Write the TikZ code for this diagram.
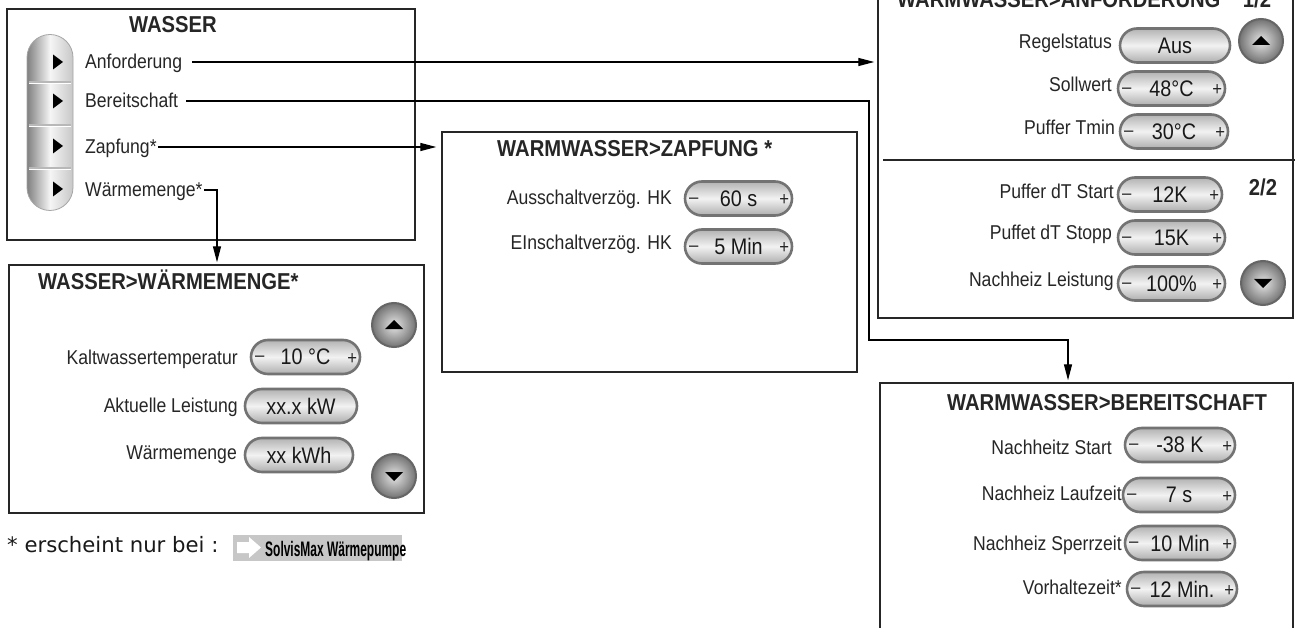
\documentclass[tikz,border=0pt]{standalone}
\usepackage{fontspec}
\setmainfont{Liberation Sans}[FakeStretch=0.88]
\newfontfamily\footfont{DejaVu Sans}
\newfontfamily\badgefont{Liberation Sans}[FakeStretch=0.57]
\usetikzlibrary{shapes.misc,arrows.meta,calc}

\tikzset{
  frame/.style={draw=black!85, line width=1.4pt, inner sep=0pt, fill=white},
  ttl/.style={font=\bfseries\fontsize{23}{24}\selectfont, inner sep=0pt, text=black!85},
  lbl/.style={font=\fontsize{20}{22}\selectfont, inner sep=0pt, anchor=base east, text=black!85},
  mlbl/.style={font=\fontsize{20}{22}\selectfont, inner sep=0pt, anchor=base west, text=black!85},
  pill/.style={rounded rectangle, draw=black!55, line width=2.6pt, top color=black!30, bottom color=black!32, middle color=black!5, inner sep=0pt, minimum height=34pt, font=\fontsize{22.5}{24}\selectfont, text=black!90},
  pmk/.style={inner sep=0pt, font=\fontsize{19}{20}\selectfont, text=black!85},
  rbtn/.style={circle, draw=black!60, line width=2pt, inner color=black!10, outer color=black!55, minimum size=44pt, inner sep=0pt},
  conn/.style={draw=black, line width=1.3pt},
  arr/.style={conn, -{Triangle[length=16pt,width=8pt]}},
}

\newcommand\valpill[5]{\node[pill, minimum width=#4pt] (#1) at (#2,#3) {\raisebox{-2.5pt}{#5}};}
\newcommand\pmpill[5]{\valpill{#1}{#2}{#3}{#4}{#5}%
  \node[pmk] (#1m) at ([xshift=10pt,yshift=-2pt]#1.west) {–};%
  \node[pmk] (#1p) at ([xshift=-9pt,yshift=-2pt]#1.east) {+};}
\newcommand\upbtn[3]{\node[rbtn] (#1) at (#2,#3) {};%
  \fill[black] ($(#1)+(0,-5)$) -- ($(#1)+(9,4)$) -- ($(#1)+(-9,4)$) -- cycle;}
\newcommand\dnbtn[3]{\node[rbtn] (#1) at (#2,#3) {};%
  \fill[black] ($(#1)+(0,5)$) -- ($(#1)+(9,-4)$) -- ($(#1)+(-9,-4)$) -- cycle;}

\begin{document}
\begin{tikzpicture}[x=1pt,y=-1pt]
\useasboundingbox (0,0) rectangle (1295,628);
\fill[white] (0,0) rectangle (1295,628);

% ---------- frames ----------
\node[frame, minimum width=408pt, minimum height=231pt] (boxW) at (211,124.5) {};
\node[frame, minimum width=415pt, minimum height=248pt] (boxM) at (216.5,389) {};
\node[frame, minimum width=415pt, minimum height=240pt] (boxZ) at (649.5,252) {};
\node[frame, minimum width=415pt, minimum height=338pt] (boxA) at (1085.5,149) {};
\node[frame, minimum width=413pt, minimum height=270pt] (boxB) at (1086.5,518) {};

% ---------- WASSER menu ----------
\node[ttl, anchor=base] (tW) at (173,33) {WASSER};
\node[draw=black!35, line width=0.8pt, rounded corners=23pt, minimum width=46pt, minimum height=176pt,
      inner sep=0pt, left color=black!50, right color=black!22, middle color=black!4] (col) at (50,122.5) {};
\foreach \yy in {82,125,168}{
  \draw[black!28, line width=1.2pt] (29,\yy) -- (71,\yy);
  \draw[white, line width=0.8pt] (29,\yy+1.5) -- (71,\yy+1.5);
}
\foreach \yy in {62,101,146,189}{
  \fill[black] (53,\yy-7.5) -- (63,\yy) -- (53,\yy+7.5) -- cycle;
}
\node[mlbl] (tAnf) at (85,69) {Anforderung};
\node[mlbl] (tBer) at (85,108) {Bereitschaft};
\node[mlbl] (tZap) at (85,154) {Zapfung*};
\node[mlbl] (tWar) at (85,197) {Wärmemenge*};

% ---------- WASSER>WÄRMEMENGE ----------
\node[ttl, anchor=base west] (tM) at (38,290) {WASSER>WÄRMEMENGE*};
\upbtn{mUp}{394}{325}
\dnbtn{mDn}{394}{476}
\node[lbl] (lK) at (238,364) {Kaltwassertemperatur};
\pmpill{pK}{305.5}{357}{109}{10 °C}
\node[lbl] (lAL) at (238,412) {Aktuelle Leistung};
\valpill{pAL}{301}{406}{112}{xx.x kW}
\node[lbl] (lWM) at (237,459) {Wärmemenge};
\valpill{pWM}{299}{455}{108}{xx kWh}

% ---------- ZAPFUNG ----------
\node[ttl, anchor=base west] (tZ) at (497,157) {WARMWASSER>ZAPFUNG *};
\node[lbl] (lAus) at (672,205) {Ausschaltverzög. HK};
\pmpill{pAus}{738.5}{198.5}{107}{60 s}
\node[lbl] (lEin) at (672,250) {EInschaltverzög. HK};
\pmpill{pEin}{738.5}{246.5}{107}{5 Min}

% ---------- ANFORDERUNG ----------
\node[ttl, anchor=base west] (tA) at (897,8) {WARMWASSER>ANFORDERUNG};
\node[ttl, anchor=base] (tA1) at (1257,8) {1/2};
\upbtn{aUp}{1261}{41}
\node[lbl] (lRS) at (1112,49) {Regelstatus};
\valpill{pRS}{1175}{45.5}{110}{Aus}
\node[lbl] (lSW) at (1112,92) {Sollwert};
\pmpill{pSW}{1171.5}{88.5}{107}{48°C}
\node[lbl] (lPT) at (1115,135) {Puffer Tmin};
\pmpill{pPT}{1174}{131.5}{108}{30°C}
\draw[black!85, line width=1.3pt] (883,160) -- (1295,160);
\node[ttl, anchor=base] (tA2) at (1263,196) {2/2};
\node[lbl] (lDS) at (1114,199) {Puffer dT Start};
\pmpill{pDS}{1170}{194.5}{104}{12K}
\node[lbl] (lDT) at (1112,240) {Puffet dT Stopp};
\pmpill{pDT}{1171.5}{237.5}{107}{15K}
\node[lbl] (lNL) at (1114,287) {Nachheiz Leistung};
\pmpill{pNL}{1171.5}{283.5}{107}{100\%}
\dnbtn{aDn}{1263}{283}

% ---------- BEREITSCHAFT ----------
\node[ttl, anchor=base] (tB) at (1107,410) {WARMWASSER>BEREITSCHAFT};
\node[lbl] (lNS) at (1112,454) {Nachheitz Start};
\pmpill{pNS}{1180}{445}{110}{-38 K}
\node[lbl] (lNLZ) at (1122,500) {Nachheiz Laufzeit};
\pmpill{pNLZ}{1179}{495}{112}{7 s}
\node[lbl] (lNSZ) at (1122,550) {Nachheiz Sperrzeit};
\pmpill{pNSZ}{1180}{543}{110}{10 Min}
\node[lbl] (lVZ) at (1122,594) {Vorhaltezeit*};
\pmpill{pVZ}{1182}{589}{110}{12 Min.}

% ---------- connectors ----------
\coordinate (bc) at (869,340);
\coordinate (bd) at (1068,340);
\coordinate (wc) at (217,190);
\draw[arr, shorten >=3pt] ([xshift=10pt,yshift=7pt]tAnf.base east) -- ([yshift=7pt]tAnf.base east -| boxA.west);
\draw[arr, shorten >=2pt] ([xshift=8pt,yshift=7pt]tBer.base east) -- ([yshift=7pt]tBer.base east -| bc) -- (bc) -- (bd) -- (bd |- boxB.north);
\draw[arr, shorten >=5pt] ([xshift=1pt,yshift=7pt]tZap.base east) -- ([yshift=7pt]tZap.base east -| boxZ.west);
\draw[arr, shorten >=2pt] ([xshift=1pt,yshift=7pt]tWar.base east) -- ([yshift=7pt]tWar.base east -| wc) -- (wc |- boxM.north);

% ---------- footnote ----------
\node[inner sep=0pt, anchor=base west, font=\footfont\fontsize{21.2}{22}\selectfont, text=black!90] (fn) at (7,552) {* erscheint nur bei :};
\node[fill=black!22, inner sep=0pt, minimum width=169pt, minimum height=26pt] (badge) at (317.5,548) {};
\fill[white] (237,542) -- (249,542) -- (249,537) -- (261,547.5) -- (249,558) -- (249,553) -- (237,553) -- cycle;
\node[inner sep=0pt, anchor=base west, font=\badgefont\bfseries\fontsize{21}{22}\selectfont] (badgeT) at (265,556) {SolvisMax Wärmepumpe};
\end{tikzpicture}
\end{document}
